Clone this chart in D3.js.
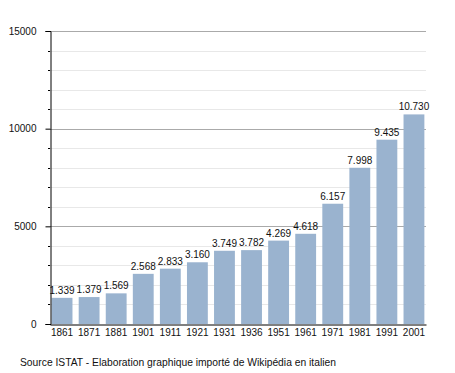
<!DOCTYPE html>
<html lang="fr">
<head>
<meta charset="UTF-8">
<title>Population</title>
<script src="https://cdn.jsdelivr.net/npm/d3@7"></script>
<style>
  body { margin: 0; background: #fff; }
  text { font-family: "Liberation Sans", Arial, sans-serif; }
</style>
</head>
<body>
<svg width="455" height="373"></svg>
<script>
// data
var years = ["1861","1871","1881","1901","1911","1921","1931","1936","1951","1961","1971","1981","1991","2001"];
var population = [1339, 1379, 1569, 2568, 2833, 3160, 3749, 3782, 4269, 4618, 6157, 7998, 9435, 10730];
var majorTicks = [0, 5000, 10000, 15000];
var minorTicks = [1000,2000,3000,4000,6000,7000,8000,9000,11000,12000,13000,14000];
var source = "Source ISTAT - Elaboration graphique importé de Wikipédia en italien";

var svg = d3.select('svg'),
    plot = {left: 50, right: 426, top: 31, bottom: 324};

var x = d3.scaleBand()
    .range([plot.left, plot.right])
    .paddingInner(0.23)
    .paddingOuter(0.06)
    .domain(years);
var y = d3.scaleLinear()
    .range([plot.bottom, plot.top])
    .domain([0, 15000]);

// gridlines
svg.append('g').selectAll('line')
    .data(minorTicks).enter().append('line')
    .attr('x1', plot.left).attr('x2', plot.right)
    .attr('y1', function(d){ return Math.round(y(d)) + 0.5; })
    .attr('y2', function(d){ return Math.round(y(d)) + 0.5; })
    .attr('stroke', '#e8e8e8');
svg.append('g').selectAll('line')
    .data(majorTicks.slice(1)).enter().append('line')
    .attr('x1', plot.left).attr('x2', plot.right)
    .attr('y1', function(d){ return Math.round(y(d)) + 0.5; })
    .attr('y2', function(d){ return Math.round(y(d)) + 0.5; })
    .attr('stroke', '#aaaaaa');

// bars
svg.append('g').selectAll('rect')
    .data(population).enter().append('rect')
    .attr('x', function(d, i){ return x(years[i]); })
    .attr('y', function(d){ return y(d); })
    .attr('width', x.bandwidth())
    .attr('height', function(d){ return y(0) - y(d); })
    .attr('fill', '#9ab3cf');

// value labels (italian style: 1.339)
var fmt = function(d){ return Math.floor(d / 1000) + '.' + String(d % 1000).padStart(3, '0'); };
svg.append('g').selectAll('text')
    .data(population).enter().append('text')
    .attr('x', function(d, i){ return x(years[i]) + x.bandwidth() / 2; })
    .attr('y', function(d){ return y(d) - 4; })
    .attr('text-anchor', 'middle')
    .attr('font-size', '10px')
    .attr('fill', '#111')
    .text(fmt);

// y axis
var yAxis = svg.append('g')
    .attr('transform', 'translate(' + (plot.left + 0.5) + ',0)')
    .call(d3.axisLeft(y).tickValues(majorTicks).tickSize(5).tickPadding(9).tickFormat(d3.format('d')));
yAxis.selectAll('text').attr('font-size', '10px').attr('fill', '#111').attr('font-family', '"Liberation Sans", Arial, sans-serif');
yAxis.select('.domain').attr('stroke', '#000');
yAxis.selectAll('.tick line').attr('stroke', '#000');
svg.append('g').selectAll('line')
    .data(minorTicks).enter().append('line')
    .attr('x1', plot.left - 2).attr('x2', plot.left)
    .attr('y1', function(d){ return Math.round(y(d)) + 0.5; })
    .attr('y2', function(d){ return Math.round(y(d)) + 0.5; })
    .attr('stroke', '#000');

// x axis
var xAxis = svg.append('g')
    .attr('transform', 'translate(0,' + (plot.bottom + 0.5) + ')')
    .call(d3.axisBottom(x).tickSize(0).tickPadding(4));
xAxis.select('.domain').attr('stroke', '#000');
xAxis.selectAll('text').attr('font-size', '10px').attr('fill', '#111').attr('font-family', '"Liberation Sans", Arial, sans-serif');

// source
svg.append('text')
    .attr('x', 20).attr('y', 366)
    .attr('font-size', '10.3px')
    .attr('fill', '#111')
    .text(source);
</script>
</body>
</html>
